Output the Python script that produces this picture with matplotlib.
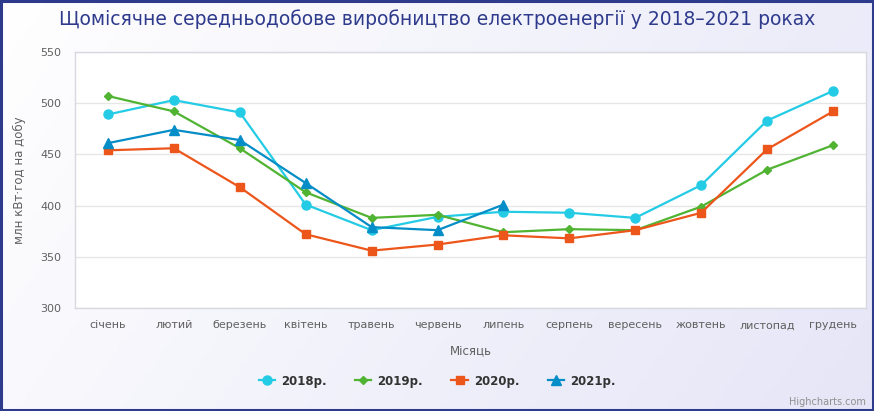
import numpy as np
import matplotlib
matplotlib.use("Agg")
import matplotlib.pyplot as plt
from matplotlib.lines import Line2D

months = ["січень", "лютий", "березень", "квітень", "травень", "червень",
          "липень", "серпень", "вересень", "жовтень", "листопад", "грудень"]
y2018 = [489, 503, 491, 401, 376, 389, 394, 393, 388, 420, 483, 512]
y2019 = [507, 492, 456, 413, 388, 391, 374, 377, 376, 399, 435, 459]
y2020 = [454, 456, 418, 372, 356, 362, 371, 368, 376, 393, 455, 492]
y2021 = [461, 474, 464, 422, 379, 376, 401]
series_names = ["2018р.", "2019р.", "2020р.", "2021р."]
yticks = [300, 350, 400, 450, 500, 550]

colors = ["#24CBE5", "#50B432", "#ED561B", "#058DC7"]
markers = ["o", "D", "s", "^"]
msizes = [6.5, 4.2, 6, 6.5]

plt.rcParams['font.family'] = ['DejaVu Sans']
W, H = 874, 411
fig = plt.figure(figsize=(W / 100, H / 100), dpi=100)

# gradient background
bg = fig.add_axes([0, 0, 1, 1], zorder=-10)
gx = np.linspace(0, 1, 200)
gy = np.linspace(0, 1, 100)
GX, GY = np.meshgrid(gx, gy)
t = np.clip(0.75 * GX + 0.25 * GY, 0, 1)
c0 = np.array([1.0, 1.0, 1.0])
c1 = np.array([0.90, 0.90, 0.97])
img = c0[None, None, :] * (1 - t[..., None]) + c1[None, None, :] * t[..., None]
bg.imshow(img, aspect="auto", extent=[0, 1, 0, 1], origin="upper")
bg.set_xlim(0, 1)
bg.set_ylim(0, 1)
bg.axis("off")
bg.add_patch(plt.Rectangle((0.001, 0.002), 0.998, 0.996, fill=False,
                           edgecolor="#2E3A8C", lw=2.2, transform=bg.transAxes))

left, right, top, bottom = 75, 866, 52, 308
ax = fig.add_axes([left / W, 1 - bottom / H, (right - left) / W, (bottom - top) / H])
ax.set_facecolor("white")
x = np.arange(len(months))
all_series = [y2018, y2019, y2020, y2021]
for vals, name, c, m, ms in zip(all_series, series_names, colors, markers, msizes):
    ax.plot(x[:len(vals)], vals, color=c, marker=m, markersize=ms, lw=1.6,
            label=name, zorder=3)

ax.set_xlim(-0.5, len(months) - 0.5)
ax.set_ylim(300, 550)
ax.set_yticks(yticks)
ax.set_xticks(x)
ax.set_xticklabels(months)
ax.tick_params(axis="both", length=0, colors="#606060", labelsize=8)
ax.tick_params(axis="x", pad=9)
ax.tick_params(axis="y", pad=10)
ax.grid(axis="y", color="#E6E6E6", lw=1)
ax.set_axisbelow(True)
for s in ax.spines.values():
    s.set_color("#D8D8E0")
    s.set_linewidth(1)
ax.set_ylabel("млн кВт·год на добу", color="#606060", fontsize=8.5, labelpad=10)
ax.set_xlabel("Місяць", color="#606060", fontsize=8.5, labelpad=10)

fig.text(0.5, 1 - 19 / H, "Щомісячне середньодобове виробництво електроенергії у 2018–2021 роках",
         ha="center", va="center", fontsize=13.5, color="#2E3A8C")

handles = [Line2D([0], [0], color=c, marker=m, markersize=ms, lw=1.6)
           for c, m, ms in zip(colors, markers, msizes)]
leg = fig.legend(handles, series_names, loc="center", bbox_to_anchor=(0.5, 1 - 381 / H),
                 ncol=4, frameon=False, prop={"weight": "bold", "size": 8.5},
                 handlelength=1.4, columnspacing=2.4, handletextpad=0.5)
for txt in leg.get_texts():
    txt.set_color("#333333")

fig.text(1 - 8 / W, 1 - 402 / H, "Highcharts.com", ha="right", va="center",
         fontsize=7, color="#909090")

fig.savefig("out.png", dpi=100)
